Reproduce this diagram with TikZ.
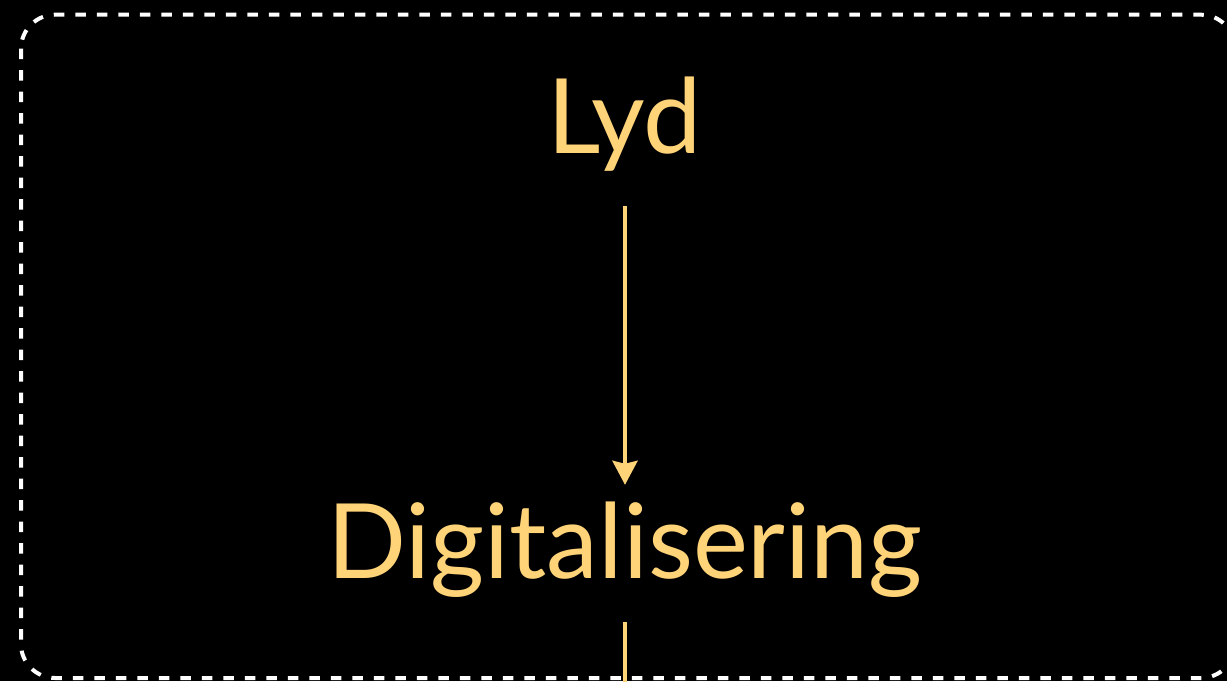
\documentclass[tikz,border=0pt]{standalone}
\usepackage{fontspec}
\setmainfont{Lato}
\usetikzlibrary{positioning,arrows.meta}
\definecolor{lydgul}{RGB}{255,212,121}
\begin{document}
\begin{tikzpicture}[x=1pt, y=-1pt, node distance=425pt, on grid,
word/.style={text=lydgul, font=\fontsize{104}{120}\selectfont, inner sep=0pt,
  text height=80pt, text depth=25pt},
flow/.style={draw=lydgul, line width=4pt,
  -{Stealth[length=24pt, width=25pt, inset=3pt]}}]
\fill [black] (0,0) rectangle (1227,681);
\useasboundingbox (0,0) rectangle (1227,681);
\draw [white, line width=4pt, dash pattern=on 10.5pt off 11pt,
rounded corners=34pt] (21,14.7) rectangle (1235,678);
\node [word] (lyd) at (625,125.5) {Lyd};
\node [word] (dig) [below = of lyd] {Digitalisering};
\coordinate [below = 150pt of dig] (ut);
\draw [flow, shorten <=28pt, shorten >=13pt] (lyd) -- (dig);
\draw [draw=lydgul, line width=4pt, shorten <=19pt] (dig) -- (ut);
\end{tikzpicture}
\end{document}
